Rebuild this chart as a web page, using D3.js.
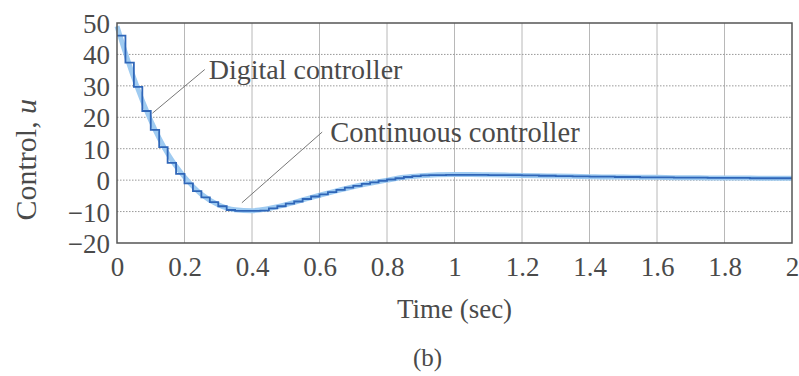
<!DOCTYPE html>
<html>
<head>
<meta charset="utf-8">
<script src="https://cdn.jsdelivr.net/npm/d3@7"></script>
<style>
  body { margin: 0; background: #fff; }
  text { font-family: "Liberation Serif", "Times New Roman", serif; fill: #4a4a4a; }
</style>
</head>
<body>
<div id="VisContainer"></div>
<script>
// digital controller samples, held for one sample period (T = 0.025 s)
sampleT = 0.025;
digitalU = [46, 37.4, 29.7, 22, 16, 10.5, 5.5, 2, -1, -3.5,
            -5.5, -7, -8.3, -9.5, -9.8, -9.8, -9.8, -9.7, -9, -8.3,
            -7.5, -6.8, -6, -5.2, -4.5, -3.8, -3.1, -2.4, -1.8, -1.2,
            -0.7, -0.2, 0.2, 0.6, 1.0, 1.3, 1.5, 1.6, 1.6, 1.7,
            1.7, 1.7, 1.7, 1.7, 1.6, 1.6, 1.6, 1.6, 1.5, 1.5,
            1.4, 1.4, 1.3, 1.3, 1.2, 1.2, 1.1, 1.1, 1.1, 1.0,
            1.0, 1.0, 0.9, 0.9, 0.9, 0.9, 0.8, 0.8, 0.8, 0.8,
            0.7, 0.7, 0.7, 0.7, 0.7, 0.6, 0.6, 0.6, 0.6, 0.6];

// continuous controller, read every 0.05 s
contT = [0, 0.05, 0.1, 0.15, 0.2, 0.25, 0.3, 0.35, 0.4, 0.45,
         0.5, 0.55, 0.6, 0.65, 0.7, 0.75, 0.8, 0.85, 0.9, 0.95,
         1.0, 1.05, 1.1, 1.15, 1.2, 1.25, 1.3, 1.35, 1.4, 1.45,
         1.5, 1.55, 1.6, 1.65, 1.7, 1.75, 1.8, 1.85, 1.9, 1.95, 2.0];
contU = [49, 32.5, 19, 8.5, 1, -4.5, -7.8, -9.4, -9.7, -9,
         -7.8, -6.3, -4.8, -3.4, -2.1, -1, 0, 0.9, 1.4, 1.7,
         1.8, 1.8, 1.7, 1.6, 1.5, 1.4, 1.3, 1.2, 1.1, 1.0,
         1.0, 0.9, 0.9, 0.8, 0.8, 0.7, 0.7, 0.7, 0.6, 0.6, 0.6];

xTicks = [0, 0.2, 0.4, 0.6, 0.8, 1, 1.2, 1.4, 1.6, 1.8, 2];
yTicks = [50, 40, 30, 20, 10, 0, -10, -20];

margin = {top: 23, right: 7, bottom: 133, left: 117},
width = 799 - margin.left - margin.right,
height = 376 - margin.top - margin.bottom;

svg = d3.select("#VisContainer").append("svg")
        .attr("width", 799)
        .attr("height", 376)
        .append("g")
        .attr("transform", "translate(" + margin.left + "," + margin.top + ")");

x = d3.scaleLinear().domain([0, 2]).range([0, width]);
y = d3.scaleLinear().domain([-20, 50]).range([height, 0]);

// grid
svg.selectAll("line.vgrid").data(xTicks.slice(1, -1)).enter().append("line")
   .attr("class", "vgrid")
   .attr("x1", d => x(d)).attr("x2", d => x(d))
   .attr("y1", 0).attr("y2", height)
   .attr("stroke", "#b8b8b8").attr("stroke-width", 1);
svg.selectAll("line.hgrid").data(yTicks.slice(1, -1)).enter().append("line")
   .attr("class", "hgrid")
   .attr("x1", 0).attr("x2", width)
   .attr("y1", d => y(d)).attr("y2", d => y(d))
   .attr("stroke", "#999").attr("stroke-width", 1)
   .attr("stroke-dasharray", "1.5,1.5");

// axes (labels only, box drawn separately)
xAxis = svg.append("g").attr("transform", "translate(0," + height + ")")
   .call(d3.axisBottom(x).tickValues(xTicks).tickSize(0).tickPadding(10)
           .tickFormat(d => String(d)));
yAxis = svg.append("g")
   .call(d3.axisLeft(y).tickValues(yTicks).tickSize(0).tickPadding(7)
           .tickFormat(d => d < 0 ? "\u2212" + Math.abs(d) : String(d)));
svg.selectAll(".domain").remove();
svg.selectAll(".tick text")
   .style("font-family", "'Liberation Serif', serif")
   .style("font-size", "27px")
   .attr("fill", "#4a4a4a");
xAxis.selectAll(".tick text").attr("dy", "0.85em");
yAxis.selectAll(".tick text").attr("dy", "0.35em");

// continuous controller
contData = contT.map((t, i) => ({t: t, u: contU[i]}));
svg.append("path").datum(contData)
   .attr("fill", "none")
   .attr("stroke", "#9fcbf1")
   .attr("stroke-width", 5)
   .attr("d", d3.line().x(d => x(d.t)).y(d => y(d.u)).curve(d3.curveMonotoneX));

// digital controller (zero order hold)
digData = digitalU.map((u, k) => ({t: k * sampleT, u: u}));
digData.push({t: 2, u: digitalU[digitalU.length - 1]});
svg.append("path").datum(digData)
   .attr("fill", "none")
   .attr("stroke", "#2f66b8")
   .attr("stroke-width", 1.8)
   .attr("d", d3.line().x(d => x(d.t)).y(d => y(d.u)).curve(d3.curveStepAfter));

// frame
svg.append("rect")
   .attr("width", width).attr("height", height)
   .attr("fill", "none").attr("stroke", "#555").attr("stroke-width", 1.5);

// annotations
svg.append("line")
   .attr("x1", x(0.26)).attr("y1", y(35.2))
   .attr("x2", x(0.105)).attr("y2", y(21.3))
   .attr("stroke", "#777").attr("stroke-width", 1);
svg.append("text").attr("x", x(0.272)).attr("y", y(32.1))
   .style("font-size", "28px").text("Digital controller");

svg.append("line")
   .attr("x1", x(0.608)).attr("y1", y(15.3))
   .attr("x2", x(0.37)).attr("y2", y(-7.2))
   .attr("stroke", "#777").attr("stroke-width", 1);
svg.append("text").attr("x", x(0.632)).attr("y", y(12.1))
   .style("font-size", "28.5px").text("Continuous controller");

// axis titles
svg.append("text")
   .attr("x", x(1)).attr("y", height + 75)
   .attr("text-anchor", "middle")
   .style("font-size", "27px").text("Time (sec)");

yTitle = svg.append("text")
   .attr("transform", "translate(" + (-81) + "," + y(6.5) + ") rotate(-90)")
   .attr("text-anchor", "middle")
   .style("font-size", "30px");
yTitle.append("tspan").text("Control, ");
yTitle.append("tspan").style("font-style", "italic").text("u");

svg.append("text")
   .attr("x", x(0.92)).attr("y", height + 123)
   .attr("text-anchor", "middle")
   .style("font-size", "25px").text("(b)");
</script>
</body>
</html>
